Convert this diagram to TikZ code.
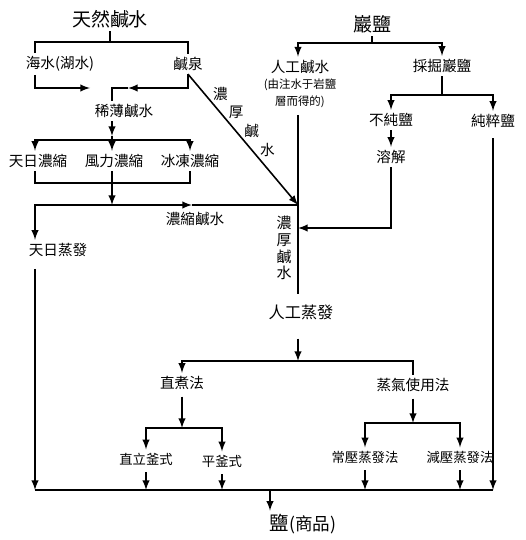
\documentclass[tikz,border=0pt]{standalone}
\usepackage{fontspec}
\setmainfont{Noto Sans CJK TC}
\usetikzlibrary{calc}
\newcommand{\notefont}{\fontsize{6.5}{7.6}\selectfont}

\begin{document}
\begin{tikzpicture}[>=latex, x=0.02cm, y=-0.02cm, line width=0.9pt,
    every node/.style={inner sep=1.5pt, font=\fontsize{8.3}{10}\selectfont},
    big/.style={font=\fontsize{10.8}{13}\selectfont},
    small/.style={font=\fontsize{7.6}{9}\selectfont}]
    \useasboundingbox (0,0) rectangle (525,540);

    % Các cột
    \coordinate (colA) at (35,0);
    \coordinate (colB) at (112,0);
    \coordinate (colD) at (298,0);

    % Các nút
    \node[big] (tianran) at (110,19) {天然鹹水};
    \node (haishui) at (60,64) {海水(湖水)};
    \node (xianquan) at (188,64) {鹹泉};
    \node (xibo) at (124,111) {稀薄鹹水};
    \node (tianri) at (38,161) {天日濃縮};
    \node (fengli) at (114,161) {風力濃縮};
    \node (bingdong) at (190,161) {冰凍濃縮};
    \node (nsxs) at (195,219) {濃縮鹹水};
    \node (zhengfa) at (58,250) {天日蒸發};
    \node[big] (yanyan) at (372,24) {巖鹽};
    \node[align=center] (rengong) at (300,84)
        {人工鹹水\\[-1pt]{\notefont(由注水于岩鹽}\\{\notefont 層而得的)}};
    \node (caijue) at (442,66) {採掘巖鹽};
    \node (buchun) at (391,120) {不純鹽};
    \node (chuncui) at (493,121) {純粹鹽};
    \node (rongjie) at (391,157) {溶解};
    \node[align=center, font=\fontsize{8.5}{9.6}\selectfont] (nhxs) at (284,248)
        {濃\\厚\\鹹\\水};
    \node[font=\fontsize{9.2}{11}\selectfont] (rgzf) at (301,312) {人工蒸發};
    \node (zhizhu) at (182,383) {直煮法};
    \node (zhengqi) at (413,385) {蒸氣使用法};
    \node[small] (zhili) at (146,459) {直立釜式};
    \node[small] (pingfu) at (222,461) {平釜式};
    \node[small] (changya) at (365,457) {常壓蒸發法};
    \node[small] (jianya) at (460,457) {減壓蒸發法};
    \node (shangpin) at (303,524) {{\fontsize{11}{13}\selectfont 鹽}{\fontsize{10}{12}\selectfont(商品)}};

    % Nhánh trái
    \coordinate (j1) at (110,42);
    \draw (tianran) -- (j1);
    \draw (haishui.north -| colA) |- (j1) -| (xianquan.north);
    \coordinate (j2) at (90,88);
    \draw[->] (haishui.south -| colA) |- (j2);
    \coordinate (m1) at (128,88);
    \draw[->] (xianquan.south) |- (m1);
    \draw (m1) -| (xibo.north -| colB);

    % Ba cách cô đặc
    \coordinate (m2) at (112,136);
    \coordinate (j4) at (112,140);
    \draw[->] (xibo.south -| colB) -- (m2);
    \draw (m2) -- (j4);
    \draw[->] (j4) -| (tianri.north -| colA);
    \draw[->] (j4) -- (fengli.north -| colB);
    \draw[->] (j4) -| (bingdong.north);
    \coordinate (j5) at (112,183);
    \coordinate (j6) at (112,205);
    \draw (tianri.south -| colA) |- (j5) -| (bingdong.south);
    \draw (fengli.south -| colB) -- (j5);
    \draw[->] (j5) -- (j6);

    % Nước mặn đặc
    \coordinate (m3) at (192,205);
    \coordinate (j7) at (298,205);
    \draw[->] (j6) -| (zhengfa.north -| colA);
    \draw[->] (j6) -- (m3);
    \draw (m3) -- (j7);
    \draw[->] (xianquan.south) -- (j7);
    \foreach \c [count=\i, evaluate=\i as \t using 0.15+0.142*(\i-1)] in {濃,厚,鹹,水}
        \node (nh\i) at ($(xianquan.south)!\t!(j7)+(16,0)$) {\c};

    % Đáy
    \coordinate (bl) at (35,490);
    \coordinate (br) at (493,490);
    \draw[->, shorten <=5pt] (zhengfa.south -| colA) -- (bl);
    \draw (bl) -- (br);

    % Nhánh phải
    \coordinate (j9) at (372,43);
    \draw (yanyan) -- (j9);
    \draw[->] (j9) -| (rengong.north -| colD);
    \draw[->] (j9) -| (caijue.north);
    \coordinate (j11) at (442,95);
    \draw (caijue.south) -- (j11);
    \draw[->] (j11) -| (buchun.north);
    \draw[->] (j11) -| (chuncui.north);
    \draw[->] (buchun) -- (rongjie);
    \draw[->, shorten <=4pt] (chuncui.south) -- (br);
    \coordinate (j10) at (298,228);
    \draw[->] (rongjie.south) |- (j10);
    \draw[shorten <=2pt] (rengong.south -| colD) -- (j7);
    \draw[shorten >=4pt] (j7) -- (rgzf.north -| colD);

    % Bốc hơi nhân tạo
    \coordinate (j12) at (298,361);
    \draw[->, shorten <=9pt] (rgzf.south -| colD) -- (j12);
    \draw[->] (j12) -| (zhizhu.north);
    \draw (j12) -| (zhengqi.north);
    \coordinate (j13) at (182,428);
    \draw[->, shorten <=2pt] (zhizhu) -- (j13);
    \draw[->] (j13) -| (zhili.north);
    \draw[->] (j13) -| (pingfu.north);
    \coordinate (j14) at (413,423);
    \draw[->, shorten <=2pt] (zhengqi) -- (j14);
    \draw[->] (j14) -| (changya.north);
    \draw[->] (j14) -| (jianya.north);
    \foreach \n in {zhili,pingfu,changya,jianya}
        \draw[->, shorten <=2pt] (\n.south) -- (\n.south |- bl);

    % Sản phẩm
    \coordinate (j15) at (270,490);
    \draw[->] (j15) -- (shangpin.north -| j15);
\end{tikzpicture}
\end{document}
